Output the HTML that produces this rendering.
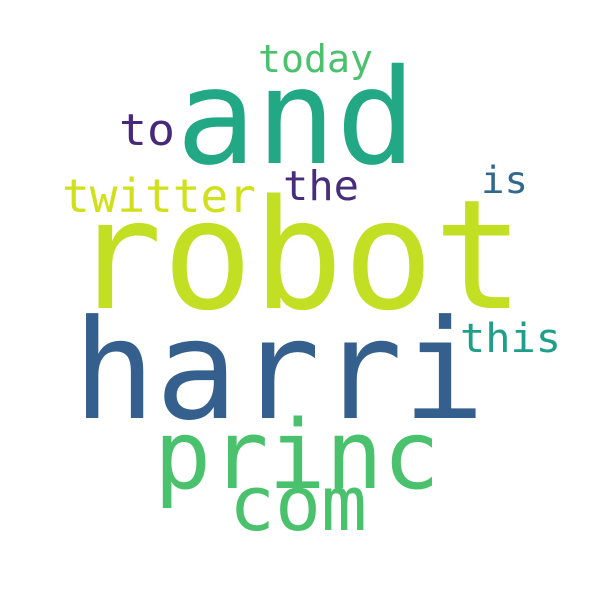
<!DOCTYPE html>
<html><head><meta charset="utf-8"><style>
html,body{margin:0;padding:0;background:#fff;}
svg{display:block;}
text{font-family:"DejaVu Sans Mono","Liberation Mono",monospace;}
</style></head><body>
<svg width="600" height="600" viewBox="0 0 600 600">
<rect width="600" height="600" fill="#fff"/>
<text x="72" y="308" font-size="152" fill="#c2df23" textLength="452" lengthAdjust="spacingAndGlyphs">robot</text>
<text x="73" y="418" font-size="138" fill="#355f8d" textLength="412" lengthAdjust="spacingAndGlyphs">harri</text>
<text x="176" y="163" font-size="132" fill="#22a884" textLength="240" lengthAdjust="spacingAndGlyphs">and</text>
<text x="154" y="488" font-size="95" fill="#4ac16d" textLength="286" lengthAdjust="spacingAndGlyphs">princ</text>
<text x="229" y="530" font-size="76" fill="#4ac16d" textLength="138" lengthAdjust="spacingAndGlyphs">com</text>
<text x="62" y="212" font-size="46" fill="#d0e11c" textLength="194" lengthAdjust="spacingAndGlyphs">twitter</text>
<text x="283" y="200" font-size="41" fill="#472d7b" textLength="76" lengthAdjust="spacingAndGlyphs">the</text>
<text x="119" y="145" font-size="44" fill="#482878" textLength="56" lengthAdjust="spacingAndGlyphs">to</text>
<text x="258" y="72" font-size="38" fill="#4ac16d" textLength="115" lengthAdjust="spacingAndGlyphs">today</text>
<text x="481" y="193" font-size="37" fill="#31688e" textLength="47" lengthAdjust="spacingAndGlyphs">is</text>
<text x="460" y="352" font-size="40" fill="#1f9e89" textLength="101" lengthAdjust="spacingAndGlyphs">this</text>
</svg>
</body></html>
